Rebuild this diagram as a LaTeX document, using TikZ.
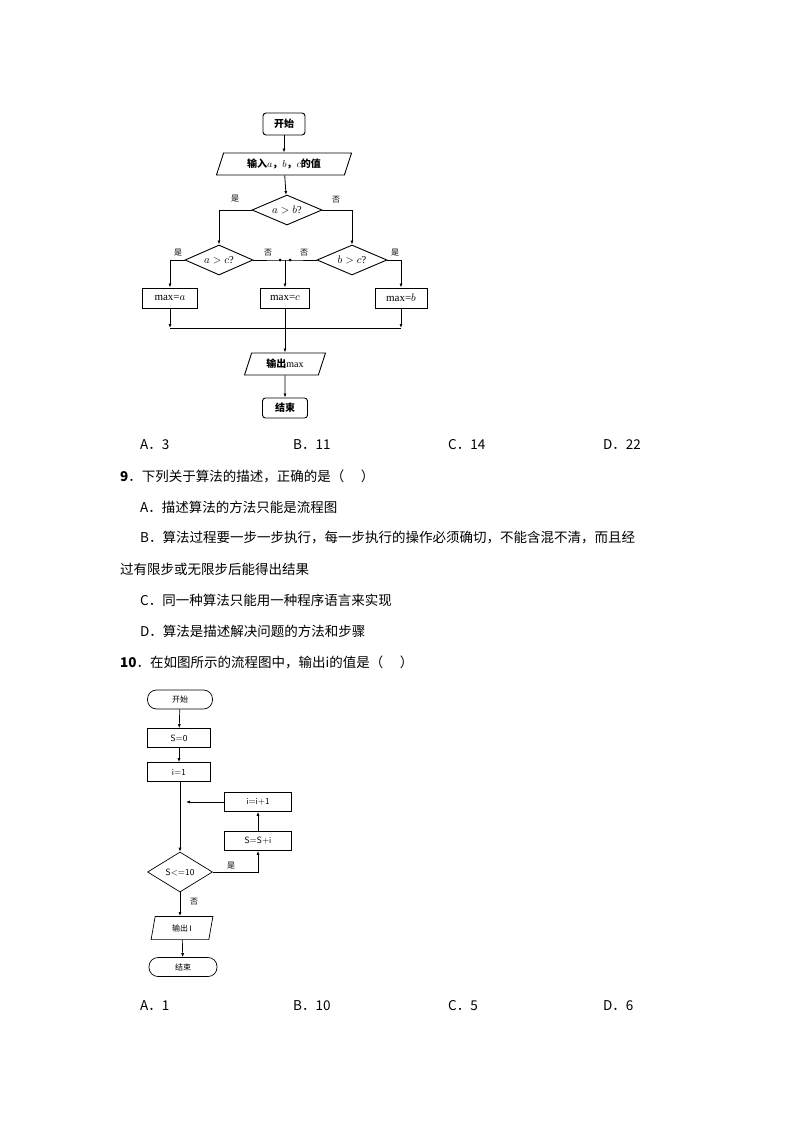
\documentclass[tikz,border=0pt]{standalone}
\usepackage{fontspec}
\setmainfont{Liberation Serif}
\newfontfamily\cjk{Noto Sans CJK SC}
\usetikzlibrary{shapes.geometric,arrows.meta}
\begin{document}
\begin{tikzpicture}[x=1pt,y=-1pt,
  ln/.style={line width=0.8pt},
  ar/.style={ln,-{Latex[length=4pt,width=3pt]}},
  rbox/.style={draw,line width=0.9pt,rounded corners=3pt,inner sep=0,font=\cjk\bfseries\fontsize{10}{12}\selectfont},
  pbox/.style={draw,line width=0.9pt,inner sep=0,font=\fontsize{11}{13}\selectfont},
  para/.style={draw,line width=0.9pt,trapezium,trapezium left angle=72,trapezium right angle=108,inner sep=2pt,font=\fontsize{10}{12}\selectfont},
  dia/.style={draw,line width=0.9pt,diamond,aspect=2.3,inner sep=0,font=\fontsize{10.5}{12}\selectfont},
  lab/.style={font=\cjk\fontsize{8}{9}\selectfont},
  txt/.style={anchor=west,inner sep=0,font=\cjk\fontsize{13.5}{16}\selectfont},
  rb2/.style={draw,line width=0.7pt,rounded corners=9pt,minimum width=65pt,minimum height=19pt,inner sep=0,font=\cjk\fontsize{8}{9}\selectfont},
  bx2/.style={draw,line width=0.7pt,minimum width=63pt,minimum height=19pt,inner sep=0,font=\sffamily\fontsize{9}{10}\selectfont},
  bx3/.style={draw,line width=0.7pt,minimum width=67pt,minimum height=19pt,inner sep=0,font=\sffamily\fontsize{9}{10}\selectfont},
  ar2/.style={line width=0.7pt,-{Latex[length=4pt,width=3pt]}}
]
\useasboundingbox (0,0) rectangle (794,1123);
% ---- flowchart 1
\node[rbox,minimum width=42pt,minimum height=22pt] (s1) at (284,124) {开始};
\node[para,minimum width=120pt,minimum height=22pt] (in1) at (284,164) {\cjk\bfseries 输入$a$，$b$，$c$的值};
\node[dia,minimum width=70pt,minimum height=30pt] (d1) at (287,210) {$a>b$?};
\node[dia,minimum width=68pt,minimum height=30pt] (d2) at (219,260) {$a>c$?};
\node[dia,minimum width=70pt,minimum height=30pt] (d3) at (352,260) {$b>c$?};
\node[pbox,minimum width=55pt,minimum height=20pt] (ma) at (170,298) {max=$a$};
\node[pbox,minimum width=49pt,minimum height=20pt] (mc) at (285,298) {max=$c$};
\node[pbox,minimum width=52pt,minimum height=20pt] (mb) at (401,298) {max=$b$};
\node[para,minimum width=62pt,minimum height=22pt] (out1) at (285,364) {\cjk\bfseries 输出\normalfont max};
\node[rbox,minimum width=45pt,minimum height=20pt] (e1) at (285,408) {结束};
\coordinate (j1) at (170,328); \coordinate (j2) at (401,328); \coordinate (jc) at (285,328);
\coordinate (p1) at (280,260); \coordinate (p2) at (290,260); \coordinate (pc) at (285,260);
\draw[ar] (s1) -- (in1);
\draw[ar] (in1) -- (d1);
\draw[ar] (d1.west) -| (d2.north);
\draw[ar] (d1.east) -| (d3.north);
\draw[ar] (d2.west) -| (ma.north);
\draw[ar] (d3.east) -| (mb.north);
\draw[ln] (d2.east) -- (p1) -- (p2) -- (d3.west);
\fill (p1) circle (1.5pt) (p2) circle (1.5pt);
\draw[ar] (pc) -- (mc);
\draw[ar] (ma) -- (j1);
\draw[ar] (mb) -- (j2);
\draw[ln] (j1) -- (j2);
\draw[ar] (mc) -- (out1);
\draw[ar] (out1) -- (e1);
\node[lab] at (235,199) {是};
\node[lab] at (336,200) {否};
\node[lab] at (178,253) {是};
\node[lab] at (268,253) {否};
\node[lab] at (304,253) {否};
\node[lab] at (395,253) {是};
% ---- text
\node[txt] at (140,445) {A．3}; \node[txt] at (293,445) {B．11};
\node[txt] at (448,445) {C．14}; \node[txt] at (603,445) {D．22};
\node[txt] at (120,476) {\textbf{9}．下列关于算法的描述，正确的是（\quad\ ）};
\node[txt] at (140,507) {A．描述算法的方法只能是流程图};
\node[txt] at (140,538) {B．算法过程要一步一步执行，每一步执行的操作必须确切，不能含混不清，而且经};
\node[txt] at (120,569) {过有限步或无限步后能得出结果};
\node[txt] at (140,600) {C．同一种算法只能用一种程序语言来实现};
\node[txt] at (140,631) {D．算法是描述解决问题的方法和步骤};
\node[txt] at (120,662) {\textbf{10}．在如图所示的流程图中，输出i的值是（\quad\ ）};
\node[txt] at (140,1006) {A．1}; \node[txt] at (293,1006) {B．10};
\node[txt] at (448,1006) {C．5}; \node[txt] at (603,1006) {D．6};
% ---- flowchart 2
\node[rb2] (s2) at (180,699.5) {开始};
\node[bx2] (b0) at (179,738) {S=0};
\node[bx2] (b1) at (179,772) {i=1};
\node[bx3] (inc) at (258,802) {i=i+1};
\node[bx3] (sum) at (258,841) {S=S+i};
\node[draw,line width=0.7pt,diamond,aspect=1.6,minimum width=65pt,minimum height=40pt,inner sep=0,font=\sffamily\fontsize{9}{10}\selectfont] (d4) at (180,872) {S<=10};
\node[draw,line width=0.7pt,trapezium,trapezium left angle=80,trapezium right angle=100,minimum width=62pt,minimum height=20pt,inner sep=1pt,font=\sffamily\fontsize{8}{9}\selectfont] (o2) at (182,928) {{\cjk 输出}\,I};
\node[rb2,minimum width=68pt] (e2) at (183,967) {结束};
\coordinate (m2) at (180,802);
\draw[ar2] (s2) -- (b0);
\draw[ar2] (b0) -- (b1);
\draw[ar2] (b1.south -| m2) -- (d4.north);
\draw[ar2] (inc.west) -- ([xshift=6pt]m2);
\draw[ar2] (sum) -- (inc);
\draw[ar2] (d4.east) -| (sum.south);
\draw[ar2] (d4.south) -- (o2.north -| d4.south);
\draw[ar2] (o2) -- (e2);
\node[lab] at (231,866) {是};
\node[lab] at (194,902) {否};
\end{tikzpicture}
\end{document}
